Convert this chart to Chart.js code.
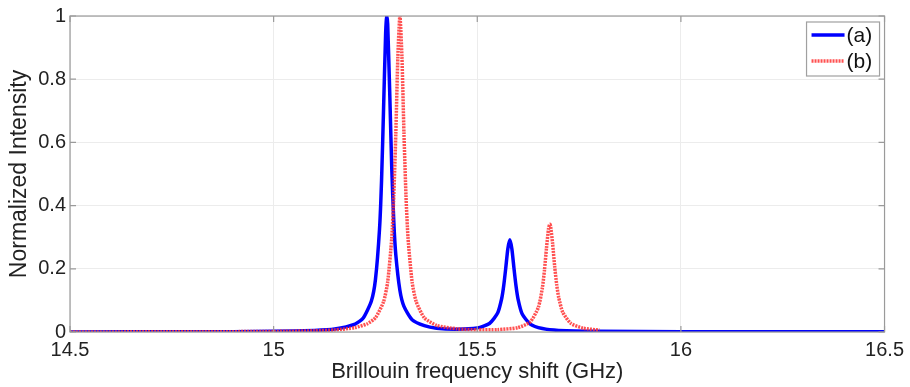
<!DOCTYPE html>
<html>
<head>
<meta charset="utf-8">
<script src="https://cdn.jsdelivr.net/npm/chart.js@4"></script>
<style>
  html, body { margin: 0; padding: 0; background: #fff; }
  #wrap { width: 910px; height: 387px; }
</style>
</head>
<body>
<div id="wrap"><canvas id="spec"></canvas></div>
<script>
// values
var seriesNames = ['(a)', '(b)'];
var xTicks = [14.5, 15, 15.5, 16, 16.5];
var yTicks = [0, 0.2, 0.4, 0.6, 0.8, 1];

var blueX = [14.5, 14.8, 15.0, 15.1, 15.15, 15.2, 15.22, 15.24, 15.25, 15.26, 15.265, 15.27, 15.275, 15.278,
  15.28, 15.285, 15.29, 15.295, 15.3, 15.31, 15.32, 15.34, 15.37, 15.4, 15.45, 15.5, 15.53, 15.55, 15.56,
  15.565, 15.57, 15.575, 15.58, 15.585, 15.59, 15.595, 15.6, 15.61, 15.63, 15.66, 15.7, 15.8, 16.0, 16.5];
var blueY = [0.0003, 0.0007, 0.002, 0.005, 0.0095, 0.025, 0.044, 0.098, 0.166, 0.326, 0.48, 0.71, 0.945, 1.0,
  0.975, 0.76, 0.52, 0.35, 0.244, 0.132, 0.081, 0.039, 0.02, 0.012, 0.009, 0.013, 0.027, 0.06, 0.106,
  0.147, 0.203, 0.263, 0.292, 0.263, 0.203, 0.147, 0.105, 0.058, 0.025, 0.011, 0.005, 0.002, 0.001, 0.0005];

var redX = [14.5, 14.8, 15.0, 15.1, 15.15, 15.2, 15.23, 15.25, 15.27, 15.28, 15.29, 15.295, 15.3, 15.305,
  15.31, 15.315, 15.32, 15.325, 15.33, 15.34, 15.35, 15.37, 15.4, 15.45, 15.5, 15.55, 15.6, 15.63, 15.65,
  15.66, 15.665, 15.67, 15.675, 15.678, 15.68, 15.685, 15.69, 15.695, 15.7, 15.71, 15.73, 15.76, 15.8];
var redY = [0.0003, 0.0006, 0.0018, 0.0038, 0.0065, 0.014, 0.026, 0.045, 0.096, 0.158, 0.297, 0.43, 0.628, 0.871,
  1.0, 0.871, 0.628, 0.43, 0.297, 0.158, 0.096, 0.045, 0.021, 0.01, 0.007, 0.0075, 0.014, 0.032, 0.078,
  0.141, 0.196, 0.266, 0.327, 0.341, 0.335, 0.28, 0.208, 0.15, 0.109, 0.062, 0.027, 0.012, 0.006];

function pts(xs, ys) {
  return xs.map(function (x, i) { return { x: x, y: ys[i] }; });
}

var FONT = '"Liberation Sans", Arial, sans-serif';

// MATLAB style frame, inner ticks and legend box inside the axes
var framePlugin = {
  id: 'frame',
  afterDraw: function (chart) {
    var c = chart.ctx, a = chart.chartArea;
    var sx = chart.scales.x, sy = chart.scales.y;
    c.save();
    c.strokeStyle = '#9a9a9a';
    c.lineWidth = 1.2;
    c.strokeRect(a.left, a.top, a.right - a.left, a.bottom - a.top);
    c.beginPath();
    xTicks.forEach(function (v) {
      var px = sx.getPixelForValue(v);
      c.moveTo(px, a.bottom); c.lineTo(px, a.bottom - 6);
      c.moveTo(px, a.top); c.lineTo(px, a.top + 6);
    });
    yTicks.forEach(function (v) {
      var py = sy.getPixelForValue(v);
      c.moveTo(a.left, py); c.lineTo(a.left + 6, py);
      c.moveTo(a.right, py); c.lineTo(a.right - 6, py);
    });
    c.stroke();
    // legend
    var bx = a.right - 78, by = a.top + 6, bw = 73, bh = 54;
    c.fillStyle = '#fff';
    c.fillRect(bx, by, bw, bh);
    c.strokeStyle = '#a0a0a0';
    c.lineWidth = 1.2;
    c.strokeRect(bx, by, bw, bh);
    c.font = '21px ' + FONT;
    c.textBaseline = 'middle';
    chart.data.datasets.forEach(function (ds, i) {
      var ly = by + 13 + i * 26;
      c.strokeStyle = ds.borderColor;
      c.lineWidth = ds.borderWidth;
      c.setLineDash(ds.borderDash || []);
      c.beginPath();
      c.moveTo(bx + 5, ly);
      c.lineTo(bx + 38, ly);
      c.stroke();
      c.setLineDash([]);
      c.fillStyle = '#111';
      c.fillText(ds.label, bx + 40, ly + 1);
    });
    c.restore();
  }
};

var ctx = document.getElementById('spec').getContext('2d');
var myChart = new Chart(ctx, {
  type: 'line',
  data: {
    datasets: [{
      label: seriesNames[0],
      data: pts(blueX, blueY),
      borderColor: 'rgb(0, 0, 255)',
      borderWidth: 3.5,
      pointRadius: 0,
      tension: 0.2,
      order: 1
    },
    {
      label: seriesNames[1],
      data: pts(redX, redY),
      borderColor: 'rgba(255, 50, 50, 0.85)',
      borderWidth: 3.5,
      borderDash: [2, 1],
      pointRadius: 0,
      tension: 0.2,
      order: 0
    }]
  },
  options: {
    responsive: true,
    maintainAspectRatio: false,
    animation: false,
    layout: { padding: { top: 16, right: 25, left: 0, bottom: 0 } },
    plugins: {
      legend: { display: false },
      tooltip: { enabled: false }
    },
    scales: {
      x: {
        type: 'linear',
        min: 14.5,
        max: 16.5,
        afterBuildTicks: function (s) { s.ticks = xTicks.map(function (v) { return { value: v }; }); },
        afterFit: function (s) { s.height = 55; },
        grid: { color: '#ececec', drawTicks: false },
        border: { display: false },
        ticks: { color: '#222', padding: 6, font: { family: FONT, size: 20 }, maxRotation: 0,
          callback: function (v) { return String(v); } },
        title: { display: true, text: 'Brillouin frequency shift (GHz)', color: '#222',
          padding: { top: 0, bottom: 2 }, font: { family: FONT, size: 22 } }
      },
      y: {
        min: 0,
        max: 1,
        afterBuildTicks: function (s) { s.ticks = yTicks.map(function (v) { return { value: v }; }); },
        afterFit: function (s) { s.width = 70; },
        grid: { color: '#ececec', drawTicks: false },
        border: { display: false },
        ticks: { color: '#222', padding: 4, font: { family: FONT, size: 20 },
          callback: function (v) { return String(v); } },
        title: { display: true, text: 'Normalized Intensity', color: '#222',
          padding: { top: 6, bottom: 0 }, font: { family: FONT, size: 23 } }
      }
    }
  },
  plugins: [framePlugin]
});
</script>
</body>
</html>
